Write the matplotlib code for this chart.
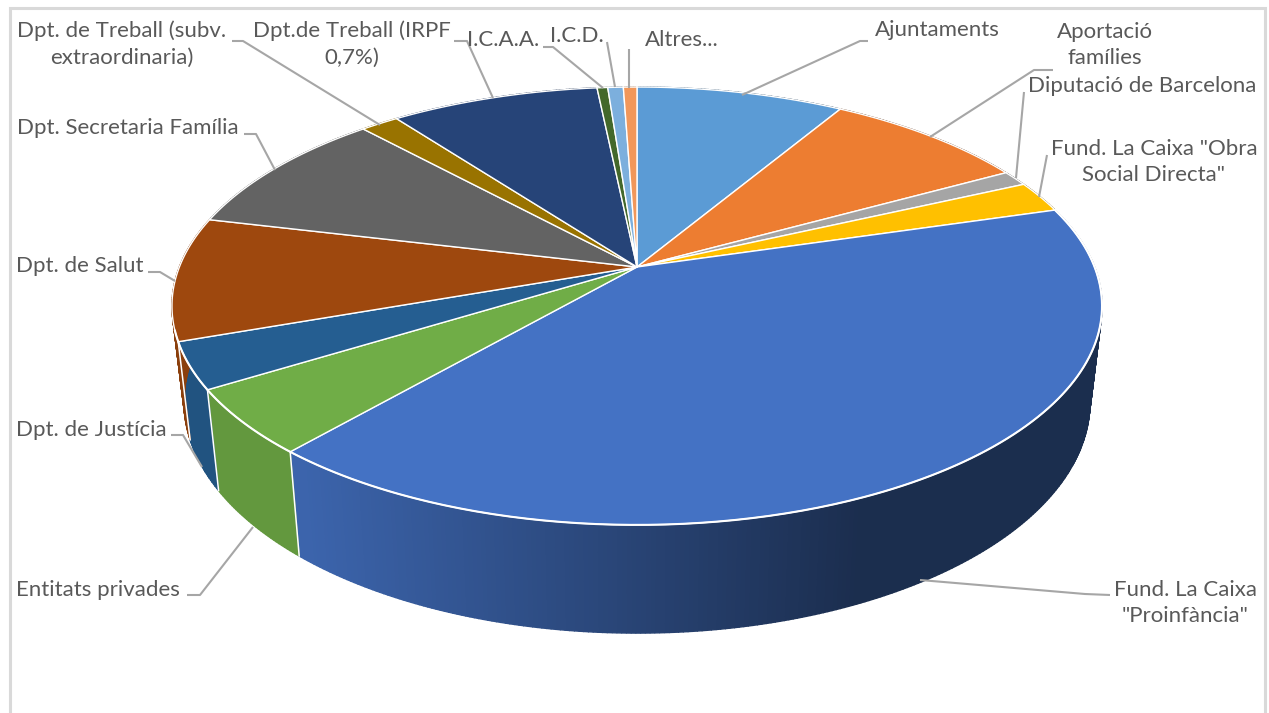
import numpy as np
from matplotlib import pyplot as plt

# slices go clockwise from 12 o'clock, shares (%)
categories = ["Ajuntaments", "Aportació\nfamílies", "Diputació de Barcelona",
              "Fund. La Caixa \"Obra\nSocial Directa\"", "Fund. La Caixa\n\"Proinfància\"",
              "Entitats privades", "Dpt. de Justícia", "Dpt. de Salut",
              "Dpt. Secretaria Família", "Dpt. de Treball (subv.\nextraordinaria)",
              "Dpt.de Treball (IRPF\n0,7%)", "I.C.A.A.", "I.C.D.", "Altres..."]
shares = [8.56, 8.42, 1.14, 2.33, 40.94, 4.81, 3.42, 9.11, 9.44, 1.58, 8.61, 0.44, 0.64, 0.56]
colors = ["#5b9bd5", "#ed7d31", "#a5a5a5", "#ffc000", "#4472c4", "#70ad47", "#255e91",
          "#9e480e", "#636363", "#997300", "#264478", "#43682b", "#7cafdd", "#f1975a"]

# label centres and leader lines, in image pixels
label_pos = [(937, 29.5), (1105, 45), (1142, 86.5), (1154, 162), (1185, 603), (98, 589.5), (91, 429.5),
             (80, 266.5), (128, 127.5), (122, 44), (352, 44), (503, 39.5), (577, 35.5), (682, 39.5)]
leaders = [[(868, 41), (860, 41), (742, 95)],
           [(1053, 70), (1034, 70), (930, 137)],
           [(1024, 92), (1016, 178)],
           [(1047, 155), (1039, 197)],
           [(1110, 595), (1085, 594), (920, 580)],
           [(187, 595), (200, 595), (253, 527)],
           [(171, 435), (183, 435), (202, 467)],
           [(148, 272), (160, 272), (175, 281)],
           [(244, 134), (256, 134), (275, 170)],
           [(232, 41), (243, 41), (380, 125)],
           [(454, 41), (467, 41), (493, 98)],
           [(543, 47), (553, 47), (603, 88)],
           [(607, 42), (615, 87)],
           [(629, 49), (629, 88)]]

W, H = 1269, 713
CX, CY = 637, 267
A, B, K = 457.6, 212.0, 0.178


def top_rim(deg):
    # perspective view of the pie's top circle
    t = np.radians(deg)
    u, v = np.sin(t), np.cos(t)
    w = 1 + K * v
    return CX + A * u / w, CY - B * v / w


def bottom_rim(deg):
    x, y = top_rim(deg)
    return CX + 0.974 * (x - CX), 361 + 1.055 * (y - CY)


def shade(hex_color, x):
    f = np.interp(x, [300, 860], [0.88, 0.40])
    rgb = np.array([int(hex_color[i:i + 2], 16) for i in (1, 3, 5)]) / 255
    return tuple(rgb * f)


fig = plt.figure(figsize=(W / 100, H / 100), dpi=100)
ax = fig.add_axes([0, 0, 1, 1])
ax.set_xlim(0, W)
ax.set_ylim(H, 0)
ax.axis("off")

# chart frame, open at the bottom
ax.plot([9.5, 9.5, 1264.5, 1264.5], [H, 8, 8, H], color="#d9d9d9", lw=2.2, solid_joinstyle="miter")

edges = np.concatenate([[0], np.cumsum(shares)]) / np.sum(shares) * 360

# walls first, the top faces cover whatever is behind them
for i, c in enumerate(colors):
    steps = np.arange(edges[i], edges[i + 1], 0.5)
    steps = np.append(steps, edges[i + 1])
    for a0, a1 in zip(steps[:-1], steps[1:]):
        x0, y0 = top_rim(a0)
        x1, y1 = top_rim(a1)
        x2, y2 = bottom_rim(a1)
        x3, y3 = bottom_rim(a0)
        col = shade(c, (x0 + x1) / 2)
        # wide edge so neighbouring strips overlap and leave no seams
        ax.fill([x0, x1, x2, x3], [y0, y1, y2, y3], facecolor=col, edgecolor=col, lw=1.0, zorder=2)

for a in edges[:-1]:
    x0, y0 = top_rim(a)
    x1, y1 = bottom_rim(a)
    ax.plot([x0, x1], [y0, y1], color="white", lw=1.1, zorder=3)

for i, c in enumerate(colors):
    angles = np.linspace(edges[i], edges[i + 1], max(int(edges[i + 1] - edges[i]) * 2, 3))
    xs, ys = top_rim(angles)
    ax.fill(np.r_[CX, xs], np.r_[CY, ys], facecolor=c, edgecolor="white", lw=1.0,
            joinstyle="round", zorder=4)

# heavier white lip where the top face meets the walls
rx, ry = top_rim(np.linspace(edges[4], edges[8] - 30, 300))
ax.plot(rx, ry, color="white", lw=1.5, zorder=4.5)

for pts in leaders:
    xs, ys = zip(*pts)
    ax.plot(xs, ys, color="#a6a6a6", lw=1.5, zorder=5, solid_capstyle="butt")

for name, (x, y) in zip(categories, label_pos):
    ax.text(x, y, name, ha="center", va="center", family="Lato", fontsize=16,
            color="#595959", linespacing=1.4, zorder=6)

fig.savefig("out.png", dpi=100)
